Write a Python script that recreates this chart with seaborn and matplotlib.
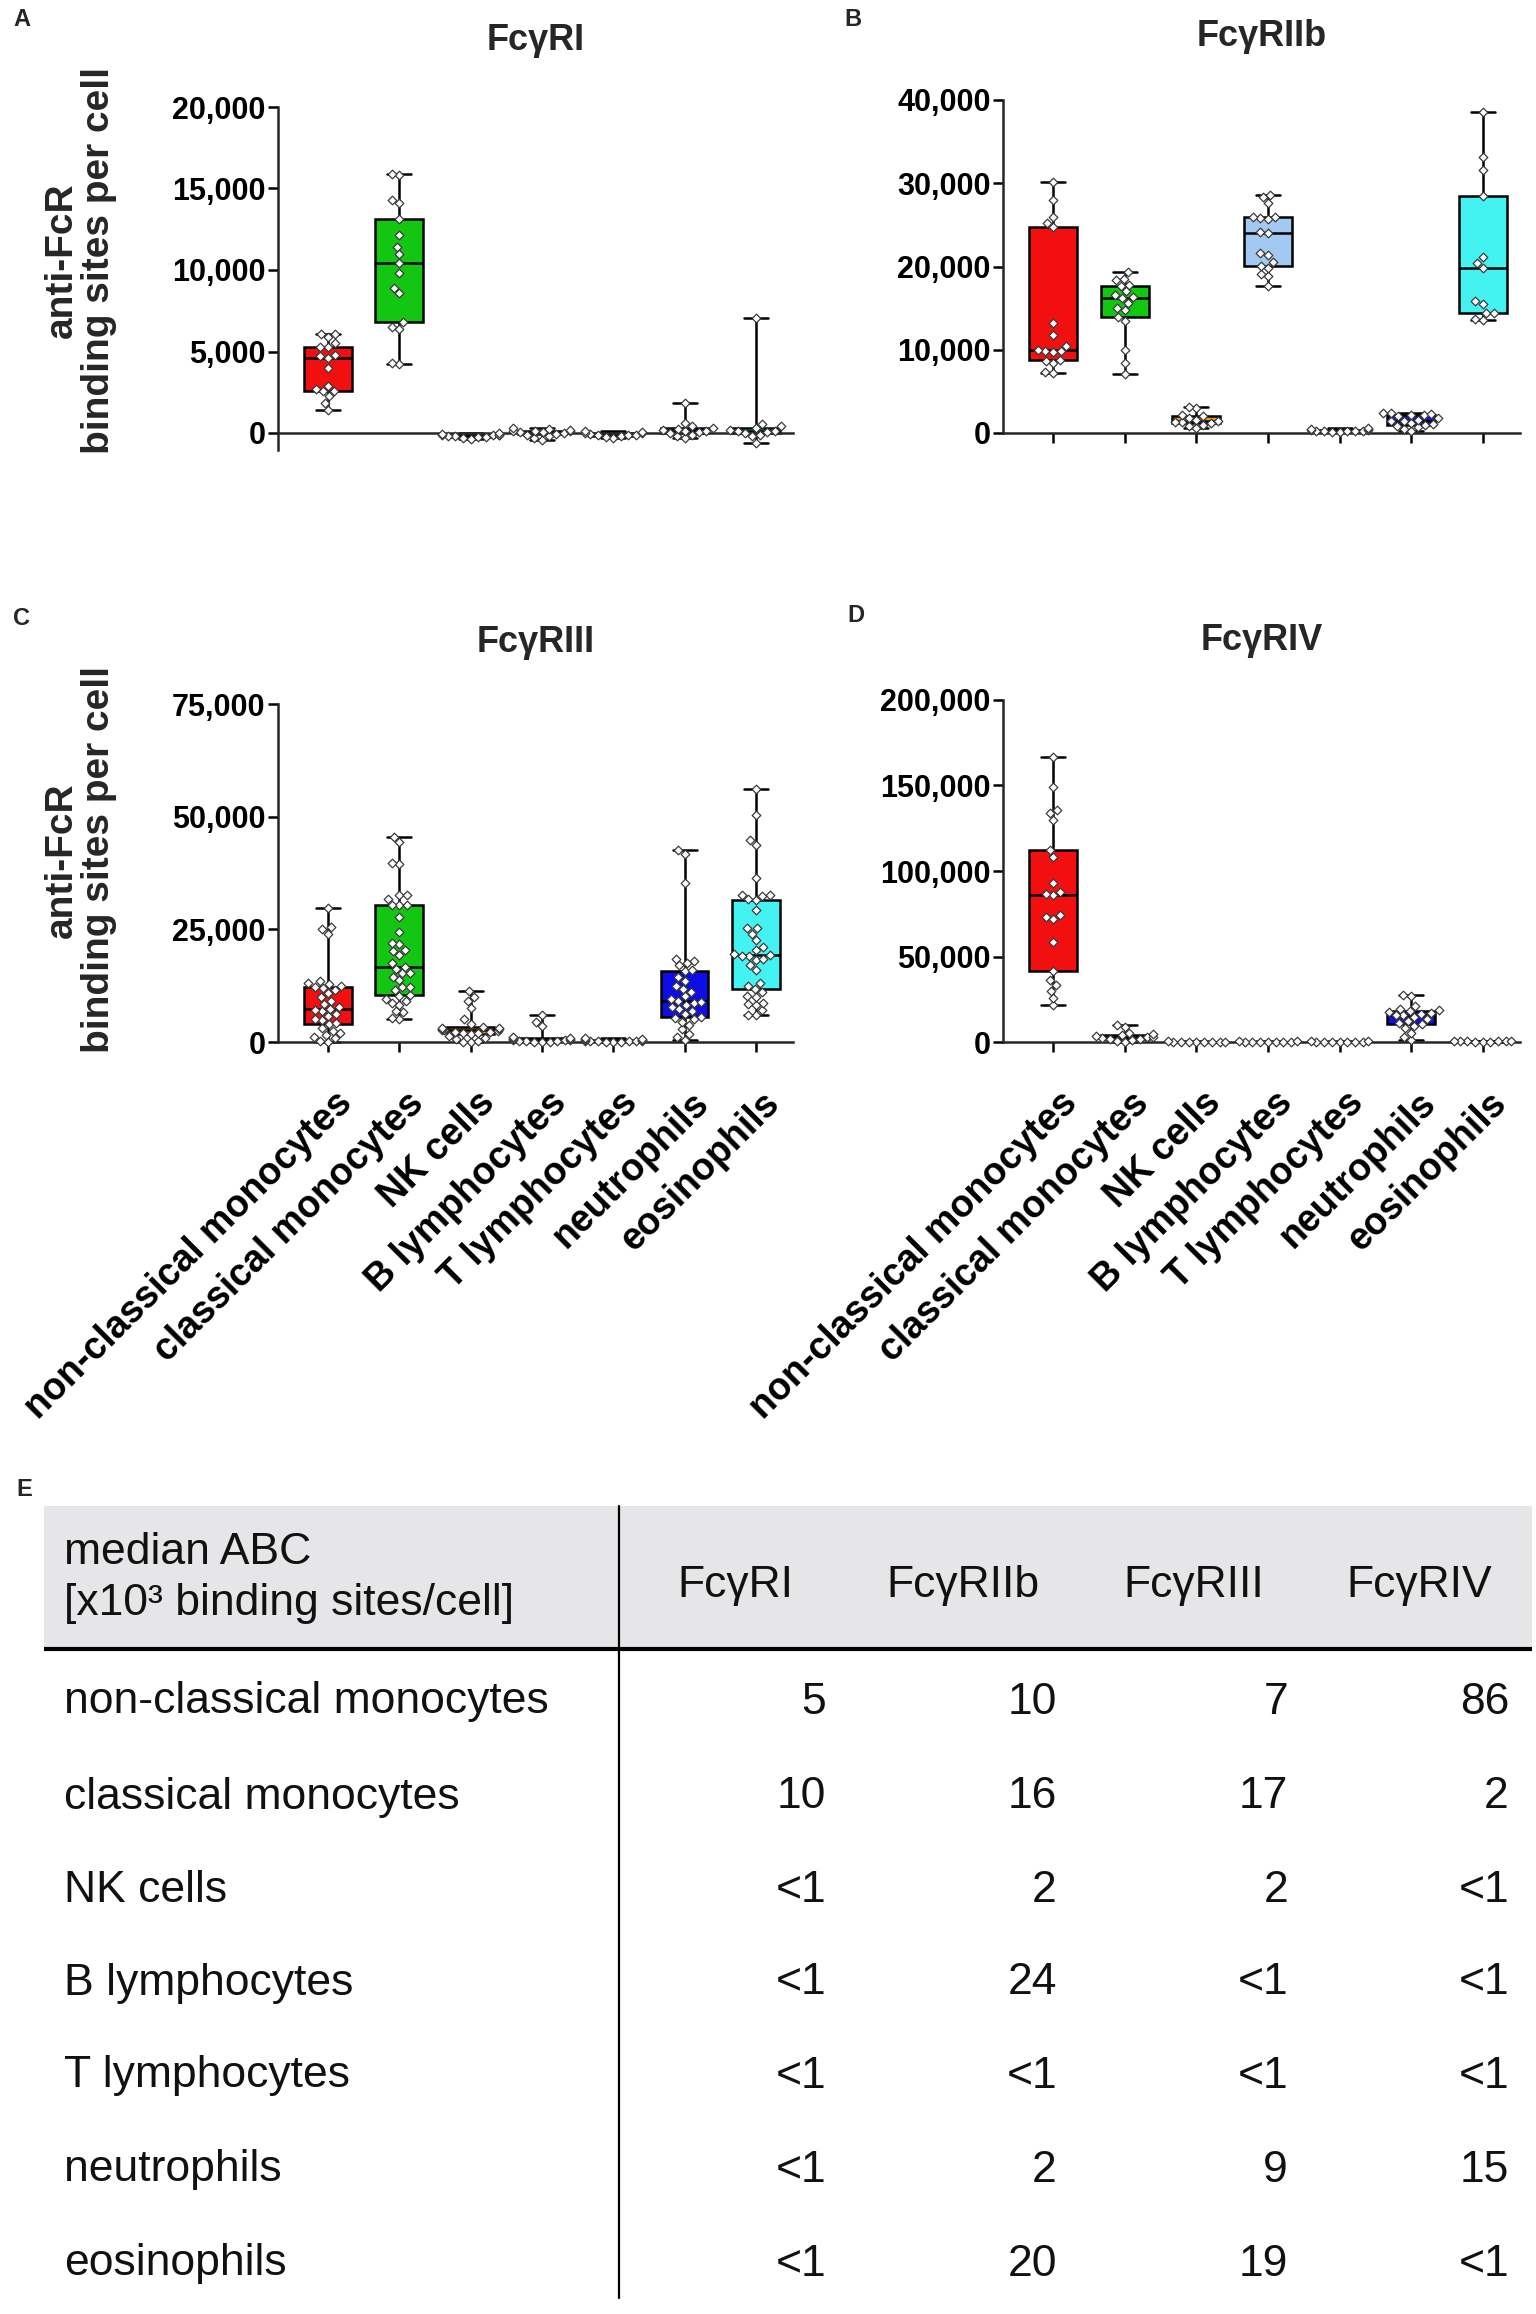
import warnings
import numpy as np
import pandas as pd
import matplotlib
matplotlib.use("Agg")
import matplotlib.pyplot as plt
import matplotlib.transforms as mtransforms
from matplotlib.patches import Rectangle
from matplotlib.ticker import FuncFormatter
import seaborn as sns

warnings.filterwarnings("ignore")

cells = ["non-classical monocytes", "classical monocytes", "NK cells",
         "B lymphocytes", "T lymphocytes", "neutrophils", "eosinophils"]
cell_colors = ["#F20F0F", "#12C612", "#FF9A1A", "#A3C9F2", "#E0E0E0", "#0D0DE8", "#45F2F2"]

# anti-FcR binding sites per cell, one list per cell type
fcgr1 = [
    [1430, 1850, 2250, 2550, 2600, 2700, 2900, 4000, 4600, 4700, 4800, 5300, 5300, 5500, 5900, 6050, 6100],
    [4250, 4300, 6400, 6500, 6800, 8570, 8900, 9800, 10400, 11000, 11430, 12140, 13100, 14100, 14300, 15800, 15900],
    [-350, -300, -250, -250, -200, -200, -150, -150, -100, -100, -50, 0],
    [-400, -300, -200, -100, -50, 0, 50, 50, 100, 100, 150, 200, 250, 300],
    [-300, -250, -200, -150, -100, -100, -50, 0, 0, 50, 100],
    [-300, -200, -100, 0, 50, 100, 150, 200, 250, 300, 400, 600, 1850],
    [-600, -200, -100, 0, 50, 100, 150, 200, 300, 400, 550, 7050],
]
fcgr2b = [
    [7200, 7300, 8400, 8600, 8800, 9700, 9800, 9800, 10000, 10400, 11800, 13200, 24700, 25200, 26000, 28000, 30200],
    [7100, 8400, 10000, 13500, 13900, 14800, 15000, 15600, 16200, 16300, 16600, 17000, 17700, 17800, 18400, 18500, 19300],
    [600, 800, 1000, 1200, 1300, 1350, 1400, 1600, 1800, 2000, 2200, 3000, 3100],
    [17600, 18800, 19100, 19800, 20100, 20500, 21400, 21600, 24000, 24100, 25700, 25800, 25900, 26000, 27600, 28300, 28600],
    [100, 150, 200, 200, 250, 300, 300, 350, 400, 450, 500, 600],
    [300, 500, 700, 900, 1000, 1100, 1200, 1400, 1500, 1600, 1800, 2000, 2200, 2200, 2300, 2400, 2400],
    [13600, 13700, 14400, 14400, 15500, 15800, 19800, 20400, 21200, 28500, 31600, 33200, 38500],
]
fcgr3 = [
    [0, 300, 800, 1200, 1600, 2000, 2500, 3000, 3900, 4200, 4800, 5200, 5800, 6300, 6800, 7100, 7400,
     7800, 8500, 9200, 10000, 10800, 11500, 12000, 12200, 12500, 12800, 13000, 13500, 24000, 25000, 25500, 29800],
    [5200, 5300, 6600, 6800, 8300, 8600, 9000, 9600, 10100, 10400, 11500, 12200, 12300, 13700, 14500, 15200,
     15300, 16200, 16700, 17500, 19300, 20300, 20500, 21700, 21900, 24300, 27800, 30400, 30400, 30500, 31800,
     32600, 32700, 39600, 39700, 44400, 45500],
    [0, 100, 300, 600, 900, 1300, 1850, 2000, 2100, 2200, 2300, 2500, 2600, 2700, 2800, 2900, 3000, 3100,
     3300, 4000, 5000, 7500, 9000, 10000, 11300],
    [0, 50, 100, 150, 200, 300, 350, 400, 500, 600, 700, 800, 900, 1000, 3500, 4500, 5900],
    [0, 50, 100, 150, 150, 200, 250, 250, 300, 350, 400, 500, 600, 700, 800],
    [400, 1000, 1800, 2800, 3800, 4500, 5000, 5300, 5600, 6200, 6800, 7400, 7800, 8200, 8600, 8800, 9000,
     9600, 10200, 11000, 11800, 12500, 13500, 14500, 15800, 16000, 17000, 17500, 18000, 18500, 35200, 41800, 42700],
    [5900, 6000, 7000, 8300, 8500, 8700, 10000, 10100, 11000, 11700, 12500, 13000, 15900, 17000, 18100, 18500,
     19000, 19100, 19300, 19600, 20500, 21100, 22600, 24000, 25200, 25300, 29200, 31500, 31800, 32500, 32600,
     32700, 36300, 43700, 44800, 50300, 56100],
]
fcgr4 = [
    [21500, 25900, 30000, 33200, 36000, 41400, 58500, 72000, 73200, 74000, 85800, 86800, 88000, 92700,
     108300, 112200, 130100, 134000, 135600, 148900, 166400],
    [0, 500, 1000, 1500, 2000, 2500, 3000, 3000, 3500, 4000, 4500, 5000, 8500, 9800],
    [0, 50, 100, 100, 150, 200, 200, 250, 300],
    [0, 50, 100, 100, 150, 200, 250, 300, 350],
    [0, 50, 100, 150, 200, 200, 250, 300, 350],
    [1000, 3000, 5500, 8000, 9500, 10300, 11000, 12000, 13500, 14500, 15600, 16000, 16500, 17000, 17500,
     18100, 18500, 19500, 21000, 27000, 27300],
    [0, 100, 200, 300, 300, 400, 500, 600, 700],
]

# table E: median ABC [x10^3 binding sites/cell]
table_cols = ["FcγRI", "FcγRIIb", "FcγRIII", "FcγRIV"]
median_r1 = ["5", "10", "<1", "<1", "<1", "<1", "<1"]
median_r2b = ["10", "16", "2", "24", "<1", "2", "20"]
median_r3 = ["7", "17", "2", "<1", "<1", "9", "19"]
median_r4 = ["86", "2", "<1", "<1", "<1", "15", "<1"]

sns.set_theme(style="ticks")
plt.rcParams["font.family"] = ["Liberation Sans", "DejaVu Sans"]
plt.rcParams["font.weight"] = "bold"
plt.rcParams["axes.linewidth"] = 1.8

W, H = 1536, 2314
fig = plt.figure(figsize=(W / 100, H / 100), dpi=100)


def add_panel(x0, x1, ytop, yzero, ylim):
    lo, hi = ylim
    ppu = (yzero - ytop) / hi
    ybot = yzero + (-lo) * ppu
    return fig.add_axes([x0 / W, 1 - ybot / H, (x1 - x0) / W, (ybot - ytop) / H])


def draw_panel(ax, values, ylim, spine_lo, yticks, show_labels, tick_len):
    df = pd.DataFrame({
        "cell": np.repeat(cells, [len(v) for v in values]),
        "value": np.concatenate([np.asarray(v, dtype=float) for v in values]),
    })
    sns.boxplot(data=df, x="cell", y="value", hue="cell", order=cells, hue_order=cells,
                palette=cell_colors, saturation=1, width=0.67, whis=(0, 100), showfliers=False,
                linewidth=1.8, linecolor="black", legend=False, ax=ax)
    sns.swarmplot(data=df, x="cell", y="value", order=cells, color="white",
                  edgecolor="#3a3a3a", linewidth=0.9, marker="D", size=4.4, ax=ax)
    ax.set_xlim(-0.7, 6.52)
    ax.set_ylim(*ylim)
    ax.set_xlabel("")
    ax.set_ylabel("")
    sns.despine(ax=ax)
    ax.spines["bottom"].set_position(("data", 0))
    ax.spines["left"].set_bounds(spine_lo, ylim[1])
    ax.set_yticks(yticks)
    ax.yaxis.set_major_formatter(FuncFormatter(lambda v, p: f"{v:,.0f}"))
    ax.tick_params(axis="y", labelsize=22, length=7, width=1.8, pad=2, colors="black")
    ax.tick_params(axis="x", length=tick_len, width=1.8, colors="black", pad=24)
    ax.set_xticks(range(len(cells)))
    if show_labels:
        ax.set_xticklabels(cells, rotation=45, ha="right", va="top",
                           rotation_mode="anchor", fontsize=27)
        shift = mtransforms.ScaledTranslation(6 / 100, 0, fig.dpi_scale_trans)
        for lab in ax.get_xticklabels():
            lab.set_transform(lab.get_transform() + shift)
    else:
        ax.set_xticklabels([])


ax_a = add_panel(278, 793, 107, 433, (-1500, 20000))
draw_panel(ax_a, fcgr1, (-1500, 20000), -1050, [0, 5000, 10000, 15000, 20000], False, 0)
ax_b = add_panel(1003, 1520, 100, 433, (-600, 40000))
draw_panel(ax_b, fcgr2b, (-600, 40000), 0, [0, 10000, 20000, 30000, 40000], False, 7)
ax_c = add_panel(278, 793, 704, 1042, (-1100, 75000))
draw_panel(ax_c, fcgr3, (-1100, 75000), 0, [0, 25000, 50000, 75000], True, 7)
ax_d = add_panel(1003, 1520, 700, 1042, (-3000, 200000))
draw_panel(ax_d, fcgr4, (-3000, 200000), 0, [0, 50000, 100000, 150000, 200000], True, 7)

# titles, panel letters and y labels
for txt, x, y in [("FcγRI", 536, 40), ("FcγRIIb", 1262, 36), ("FcγRIII", 536, 642), ("FcγRIV", 1262, 640)]:
    fig.text(x / W, 1 - y / H, txt, ha="center", va="center", fontsize=26, fontweight="bold")
for txt, x, y in [("A", 22, 20), ("B", 853, 20), ("C", 22, 618), ("D", 856, 616), ("E", 24, 1490)]:
    fig.text(x / W, 1 - y / H, txt, ha="center", va="center", fontsize=17, fontweight="bold")
for yc in [260, 860]:
    fig.text(62 / W, 1 - yc / H, "anti-FcR", rotation=90, ha="center", va="center",
             fontsize=28, fontweight="bold")
    fig.text(99 / W, 1 - yc / H, "binding sites per cell", rotation=90, ha="center", va="center",
             fontsize=28, fontweight="bold")

# table E
tax = fig.add_axes([0, 0, 1, (H - 1470) / H])
tax.set_xlim(0, W)
tax.set_ylim(H, 1470)
tax.axis("off")
tax.add_patch(Rectangle((44, 1506), 1488, 141, facecolor="#E6E5E7", edgecolor="none"))
tax.plot([44, 1532], [1649, 1649], color="black", lw=3, solid_capstyle="butt")
tax.plot([619, 619], [1506, 2298], color="black", lw=1.6)

tfont = dict(fontsize=32, fontweight="normal", color="#111111")
tax.text(64, 1553, "median ABC", ha="left", va="center", **tfont)
tax.text(64, 1604, "[x10³ binding sites/cell]", ha="left", va="center", **tfont)
col_centers = [735, 963, 1194, 1419]
col_rights = [826, 1057, 1288, 1509]
for name, xc in zip(table_cols, col_centers):
    tax.text(xc, 1585, name, ha="center", va="center", **tfont)

row_y = [1702, 1797, 1890, 1983, 2076, 2170, 2264]
for i, cell in enumerate(cells):
    tax.text(64, row_y[i], cell, ha="left", va="center", **tfont)
    for col, xr in zip([median_r1, median_r2b, median_r3, median_r4], col_rights):
        tax.text(xr, row_y[i], col[i], ha="right", va="center", **tfont)

fig.savefig("out.png", dpi=100)
